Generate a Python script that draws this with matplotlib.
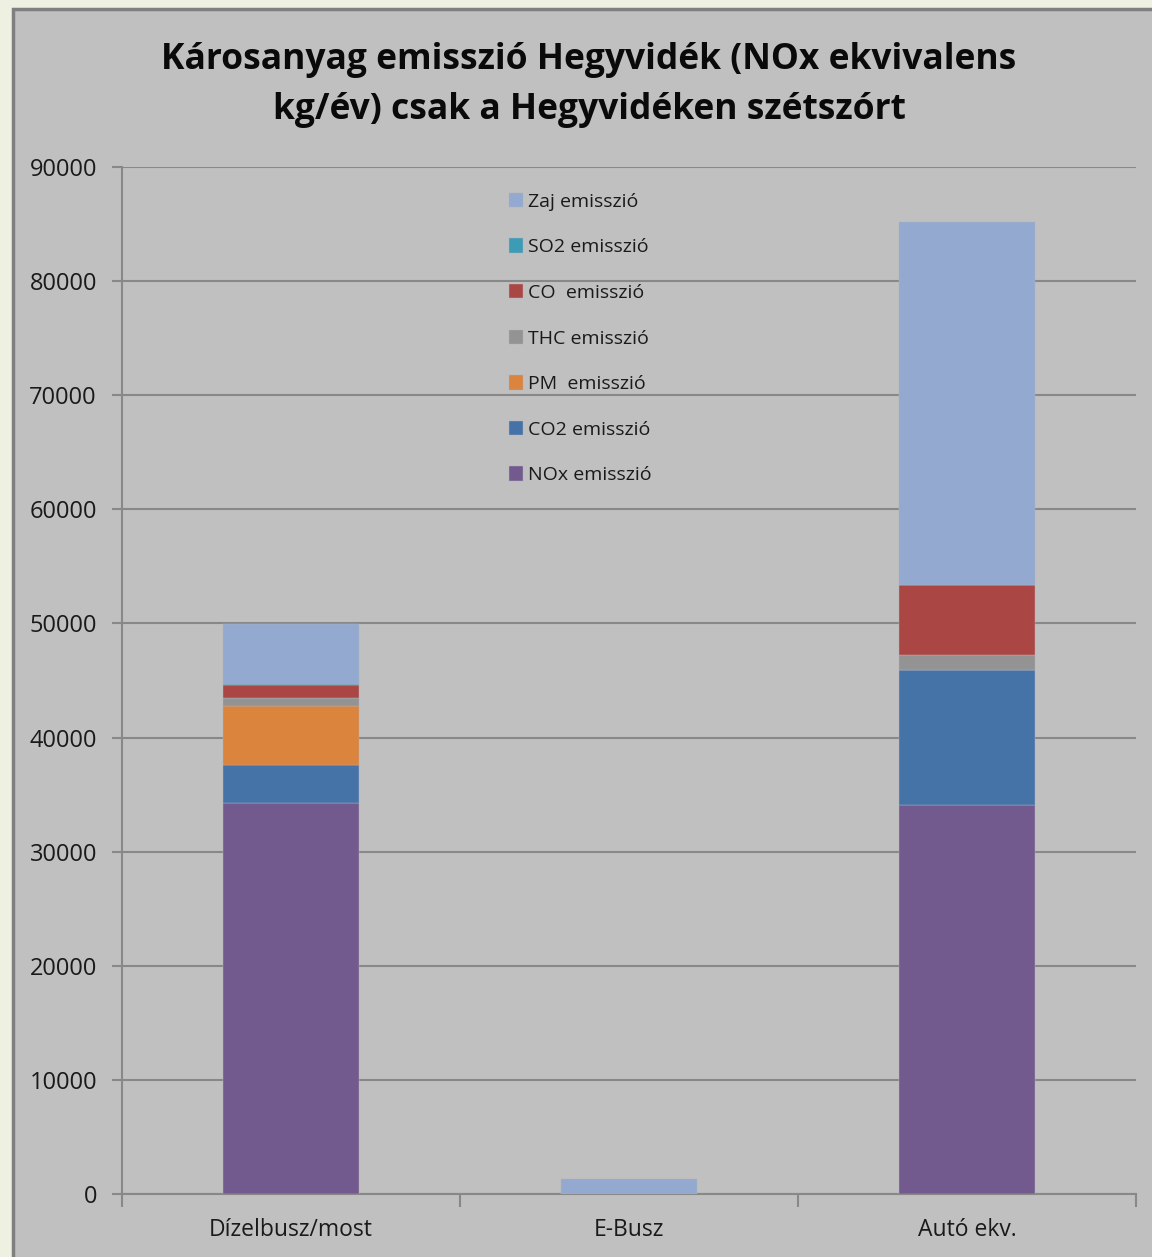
import matplotlib.pyplot as plt
from matplotlib.patches import Rectangle

# categories and stacked series (NOx equivalent kg/year)
categories = ["Dízelbusz/most", "E-Busz", "Autó ekv."]
series_names = ["NOx emisszió", "CO2 emisszió", "PM  emisszió", "THC emisszió",
                "CO  emisszió", "SO2 emisszió", "Zaj emisszió"]
nox = [34300, 0, 34100]
co2 = [3300, 0, 11800]
pm = [5200, 0, 0]
thc = [650, 0, 1300]
co = [1150, 0, 6200]
so2 = [120, 0, 0]
zaj = [5200, 1300, 31800]
colors = ["#735a8e", "#4573a7", "#db843d", "#939393", "#aa4644", "#3d9cb5", "#93a9cf"]

yticks = list(range(0, 90001, 10000))

plt.rcParams['font.family'] = ['Open Sans', 'DejaVu Sans']

fig = plt.figure(figsize=(11.52, 12.57), dpi=100)
fig.patch.set_facecolor("#eef0e2")
# grey chart area frame, cut off at right and bottom like the original
fig.patches.append(Rectangle((13 / 1152, -0.05), 1.2, 1.05 - 9 / 1257,
                             transform=fig.transFigure, facecolor="#c0c0c0",
                             edgecolor="#7f7f7f", linewidth=2.5, zorder=-1))

ax = fig.add_axes([122 / 1152, 63 / 1257, 1014 / 1152, 1027 / 1257])
ax.set_zorder(1)
ax.set_facecolor("#c0c0c0")

x = range(len(categories))
bottom = [0, 0, 0]
for name, vals, c in zip(series_names, [nox, co2, pm, thc, co, so2, zaj], colors):
    ax.bar(x, vals, width=0.4, bottom=bottom, color=c, label=name,
           edgecolor="#b4b4bc", linewidth=0.3, zorder=3)
    bottom = [b + v for b, v in zip(bottom, vals)]

ax.set_xlim(-0.5, 2.5)
ax.set_ylim(0, 90000)
ax.set_yticks(yticks)
ax.set_yticklabels([str(t) for t in yticks])
ax.set_xticks([-0.5, 0.5, 1.5, 2.5])
ax.set_xticklabels([])
ax.set_xticks(list(x), minor=True)
ax.set_xticklabels(categories, minor=True)
ax.tick_params(axis="x", which="minor", length=0, pad=17, labelsize=16.5, labelcolor="#1a1a1a")
ax.tick_params(axis="x", which="major", length=9, color="#888888", width=1.5)
ax.tick_params(axis="y", length=7, color="#888888", width=1.5, pad=11,
               labelsize=17, labelcolor="#1a1a1a")

ax.yaxis.grid(True, color="#888888", linewidth=1.5)
ax.set_axisbelow(True)
for s in ["top", "right"]:
    ax.spines[s].set_visible(False)
for s in ["left", "bottom"]:
    ax.spines[s].set_color("#888888")
    ax.spines[s].set_linewidth(1.5)

h, l = ax.get_legend_handles_labels()
leg = ax.legend(h[::-1], l[::-1], loc="upper left", bbox_to_anchor=(0.364, 0.992),
                frameon=False, fontsize=14, labelspacing=1.42, handlelength=0.75,
                handleheight=0.75, handletextpad=0.25)
for t in leg.get_texts():
    t.set_color("#1a1a1a")

fig.text(589 / 1152, 1 - 85 / 1257,
         "Károsanyag emisszió Hegyvidék (NOx ekvivalens\nkg/év) csak a Hegyvidéken szétszórt",
         ha="center", va="center", fontsize=25.5, fontweight="bold",
         linespacing=1.5, color="#0a0a0a")

fig.savefig("out.png", dpi=100, facecolor=fig.get_facecolor())
